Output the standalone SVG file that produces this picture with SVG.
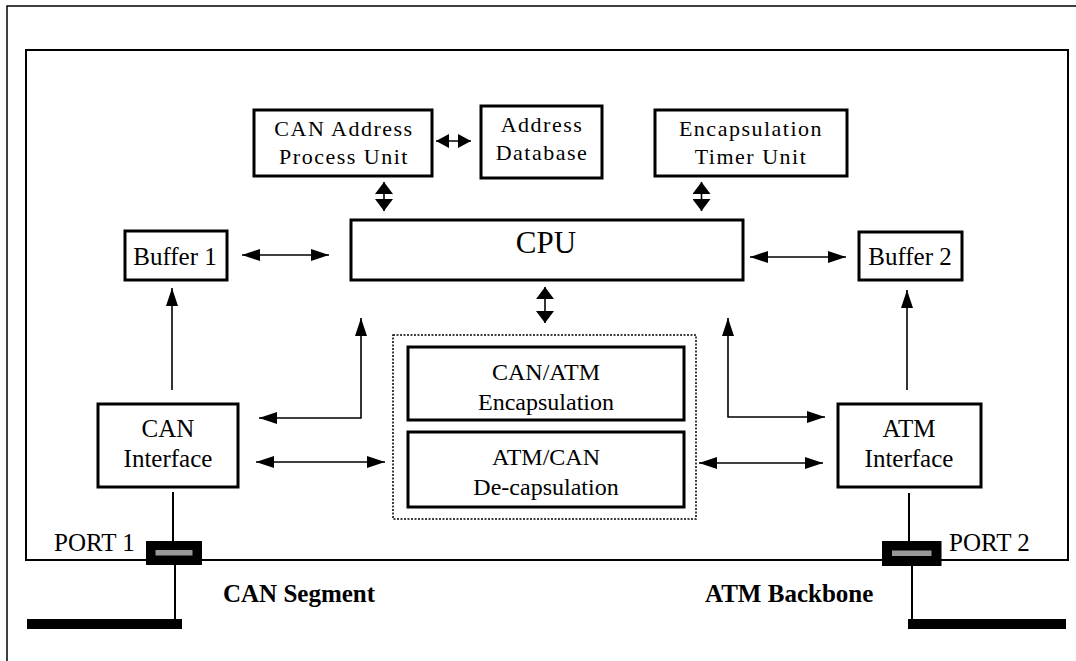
<svg xmlns="http://www.w3.org/2000/svg" width="1076" height="661" viewBox="0 0 1076 661">
<style>
.box{fill:#fff;stroke:#000;stroke-width:3}
.t{font-family:"Liberation Serif","Times New Roman",serif;fill:#000;text-anchor:middle}
.s{font-size:22px;letter-spacing:1.5px}
.m{font-size:25px}
.e{font-size:24px}
.b{font-size:25px;font-weight:bold;text-anchor:start}
.ln{stroke:#000;stroke-width:1.6;fill:none}
.w{stroke:#000;stroke-width:2;fill:none}
</style>
<defs>
<marker id="ah" markerUnits="userSpaceOnUse" markerWidth="18" markerHeight="12" refX="18" refY="6" orient="auto-start-reverse"><path d="M0,0 L18,6 L0,12 z" fill="#000"/></marker>
<marker id="ab" markerUnits="userSpaceOnUse" markerWidth="12" markerHeight="18" refX="12" refY="9" orient="auto-start-reverse"><path d="M0,0 L12,9 L0,18 z" fill="#000"/></marker>
<marker id="am" markerUnits="userSpaceOnUse" markerWidth="13" markerHeight="14" refX="13" refY="7" orient="auto-start-reverse"><path d="M0,0 L13,7 L0,14 z" fill="#000"/></marker>
</defs>
<rect x="0" y="0" width="1076" height="661" fill="#fff"/>
<rect x="7" y="6" width="1200" height="800" fill="none" stroke="#000" stroke-width="1.5"/>
<rect x="26" y="50" width="1042" height="510" fill="none" stroke="#000" stroke-width="2"/>

<g id="connectors">
<line class="ln" x1="436" y1="141" x2="471" y2="141" marker-start="url(#am)" marker-end="url(#am)"/>
<line class="ln" x1="384" y1="182" x2="384" y2="211" marker-start="url(#ab)" marker-end="url(#ab)"/>
<line class="ln" x1="701.5" y1="182" x2="701.5" y2="211" marker-start="url(#ab)" marker-end="url(#ab)"/>
<line class="ln" x1="545" y1="287" x2="545" y2="323" marker-start="url(#ab)" marker-end="url(#ab)"/>
<line class="ln" x1="242" y1="255" x2="329" y2="255" marker-start="url(#ah)" marker-end="url(#ah)"/>
<line class="ln" x1="750" y1="257" x2="846" y2="257" marker-start="url(#ah)" marker-end="url(#ah)"/>
<line class="ln" x1="172" y1="390" x2="172" y2="288" marker-end="url(#ah)"/>
<line class="ln" x1="907" y1="390" x2="907" y2="290" marker-end="url(#ah)"/>
<polyline class="ln" points="361,318 361,418 259,418" marker-start="url(#ah)" marker-end="url(#ah)"/>
<polyline class="ln" points="728,318 728,417 825,417" marker-start="url(#ah)" marker-end="url(#ah)"/>
<line class="ln" x1="256" y1="462" x2="385" y2="462" marker-start="url(#ah)" marker-end="url(#ah)"/>
<line class="ln" x1="699" y1="463" x2="823" y2="463" marker-start="url(#ah)" marker-end="url(#ah)"/>
<line class="w" x1="173" y1="492" x2="173" y2="542"/>
<line class="w" x1="175" y1="565" x2="175" y2="620"/>
<line class="w" x1="909" y1="493" x2="909" y2="542"/>
<line class="w" x1="912" y1="566" x2="912" y2="620"/>
</g>

<g id="can-address">
<rect class="box" x="254" y="110" width="178" height="66"/>
<text class="t s" x="344" y="136">CAN Address</text>
<text class="t s" x="344" y="164">Process Unit</text>
</g>
<g id="address-db">
<rect class="box" x="481" y="106" width="121" height="72"/>
<text class="t s" x="542" y="132">Address</text>
<text class="t s" x="542" y="160">Database</text>
</g>
<g id="encap-timer">
<rect class="box" x="655" y="110" width="192" height="66"/>
<text class="t s" x="751" y="136">Encapsulation</text>
<text class="t s" x="751" y="164">Timer Unit</text>
</g>
<g id="cpu">
<rect class="box" x="351" y="220" width="392" height="60"/>
<text class="t" style="font-size:31px" x="546" y="253">CPU</text>
</g>
<g id="buffer1">
<rect class="box" x="125" y="231" width="102" height="49"/>
<text class="t m" x="175" y="265">Buffer 1</text>
</g>
<g id="buffer2">
<rect class="box" x="859" y="232" width="103" height="48"/>
<text class="t m" x="910" y="265">Buffer 2</text>
</g>
<g id="codec-group">
<rect x="393" y="335" width="303" height="184" fill="none" stroke="#000" stroke-width="1.5" stroke-dasharray="2,1.5"/>
</g>
<g id="encap">
<rect class="box" x="408" y="347" width="276" height="73"/>
<text class="t e" x="546" y="380">CAN/ATM</text>
<text class="t e" x="546" y="410">Encapsulation</text>
</g>
<g id="decap">
<rect class="box" x="408" y="432" width="276" height="75"/>
<text class="t e" x="546" y="465">ATM/CAN</text>
<text class="t e" x="546" y="495">De-capsulation</text>
</g>
<g id="can-interface">
<rect class="box" x="98" y="404" width="140" height="83"/>
<text class="t m" x="168" y="437">CAN</text>
<text class="t m" x="168" y="467">Interface</text>
</g>
<g id="atm-interface">
<rect class="box" x="838" y="404" width="143" height="83"/>
<text class="t m" x="909" y="437">ATM</text>
<text class="t m" x="909" y="467">Interface</text>
</g>
<g id="port1">
<rect x="146" y="541" width="56" height="24" fill="#000"/>
<rect x="155.5" y="550" width="37" height="5.5" fill="#999"/>
<text class="t m" style="text-anchor:start" x="54" y="551">PORT 1</text>
</g>
<g id="port2">
<rect x="882" y="541" width="59.5" height="25" fill="#000"/>
<rect x="892" y="550.5" width="39.5" height="5.5" fill="#999"/>
<text class="t m" style="text-anchor:start" x="949" y="551">PORT 2</text>
</g>
<g id="can-segment">
<rect x="27" y="619" width="155" height="10" fill="#000"/>
<text class="t b" x="223" y="602">CAN Segment</text>
</g>
<g id="atm-backbone">
<rect x="908" y="619" width="158" height="10" fill="#000"/>
<text class="t b" x="705" y="602">ATM Backbone</text>
</g>
</svg>
